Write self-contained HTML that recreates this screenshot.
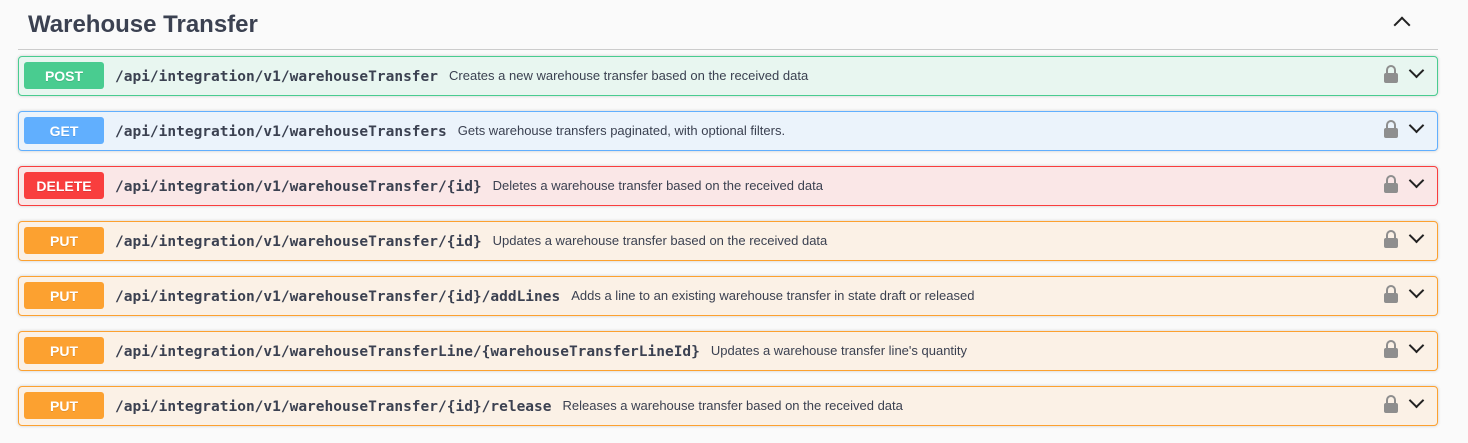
<!DOCTYPE html>
<html><head><style>
body{margin:0;background:#fafafa;width:1468px;height:443px;overflow:hidden;font-family:"Liberation Sans",sans-serif;position:relative}
h2{position:absolute;left:28px;top:11px;margin:0;font-size:24px;font-weight:bold;color:#3b4151}
.hr{position:absolute;left:18px;top:49px;width:1420px;height:1px;background:#ccc}
.up{position:absolute;left:1396px;top:19px;width:10px;height:10px;border-left:2px solid #222;border-top:2px solid #222;transform:rotate(45deg)}
.op{position:absolute;left:18px;width:1418px;height:38px;border:1px solid;border-radius:4px;box-shadow:0 0 3px rgba(0,0,0,.19)}
.b{position:absolute;left:5px;top:5px;width:80px;height:27px;border-radius:3px;color:#fff;font-weight:bold;font-size:14px;text-align:center;line-height:28px;text-shadow:0 1px 0 rgba(0,0,0,.1)}
.p{position:absolute;left:96px;top:12px;font-family:"DejaVu Sans Mono","Liberation Mono",monospace;font-weight:bold;font-size:14.5px;color:#3b4151;white-space:nowrap}
.p span{font-family:"Liberation Sans",sans-serif;font-weight:normal;font-size:13px;margin-left:11px;position:relative;top:-1px}
.lk{position:absolute;left:1365px;top:16px;width:14px;height:10px;background:#8e8e8e;border-radius:2px}
.lk:before{content:"";position:absolute;left:2px;top:-8px;width:6px;height:8px;border:2px solid #8e8e8e;border-bottom:none;border-radius:5px 5px 0 0}
.dn{position:absolute;left:1392px;top:8px;width:9px;height:9px;border-right:2px solid #222;border-bottom:2px solid #222;transform:rotate(45deg)}
.post{border-color:#49cc90;background:#e8f6f0}.post .b{background:#49cc90}
.get{border-color:#61affe;background:#ebf3fb}.get .b{background:#61affe}
.del{border-color:#f93e3e;background:#fae7e7}.del .b{background:#f93e3e}
.put{border-color:#fca130;background:#fbf1e6}.put .b{background:#fca130}
</style></head><body>
<h2>Warehouse Transfer</h2><div class="up"></div><div class="hr"></div>
<div class="op post" style="top:56px"><div class="b">POST</div><div class="p">/api/integration/v1/warehouseTransfer<span>Creates a new warehouse transfer based on the received data</span></div><div class="lk"></div><div class="dn"></div></div>
<div class="op get" style="top:111px"><div class="b">GET</div><div class="p">/api/integration/v1/warehouseTransfers<span>Gets warehouse transfers paginated, with optional filters.</span></div><div class="lk"></div><div class="dn"></div></div>
<div class="op del" style="top:166px"><div class="b">DELETE</div><div class="p">/api/integration/v1/warehouseTransfer/{id}<span>Deletes a warehouse transfer based on the received data</span></div><div class="lk"></div><div class="dn"></div></div>
<div class="op put" style="top:221px"><div class="b">PUT</div><div class="p">/api/integration/v1/warehouseTransfer/{id}<span>Updates a warehouse transfer based on the received data</span></div><div class="lk"></div><div class="dn"></div></div>
<div class="op put" style="top:276px"><div class="b">PUT</div><div class="p">/api/integration/v1/warehouseTransfer/{id}/addLines<span>Adds a line to an existing warehouse transfer in state draft or released</span></div><div class="lk"></div><div class="dn"></div></div>
<div class="op put" style="top:331px"><div class="b">PUT</div><div class="p">/api/integration/v1/warehouseTransferLine/{warehouseTransferLineId}<span>Updates a warehouse transfer line's quantity</span></div><div class="lk"></div><div class="dn"></div></div>
<div class="op put" style="top:386px"><div class="b">PUT</div><div class="p">/api/integration/v1/warehouseTransfer/{id}/release<span>Releases a warehouse transfer based on the received data</span></div><div class="lk"></div><div class="dn"></div></div>
</body></html>
